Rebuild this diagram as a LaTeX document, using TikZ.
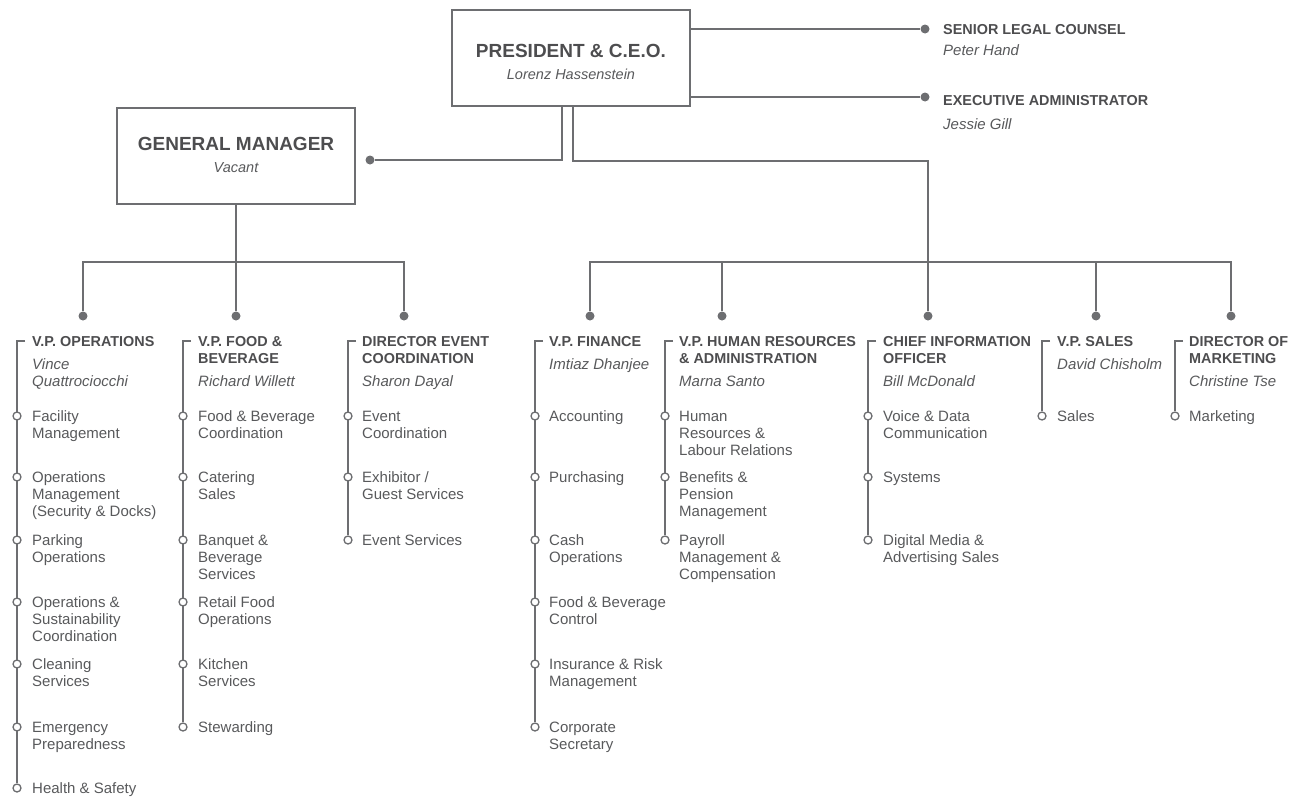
\documentclass[tikz,border=0pt]{standalone}
\usepackage{fontspec}
\setmainfont{Liberation Sans}
\usetikzlibrary{backgrounds}
\definecolor{orgline}{HTML}{6D6E71}
\definecolor{orgtext}{HTML}{58595B}
\definecolor{orghead}{HTML}{4D4D4F}
\newcommand{\stk}[1]{\begin{tabular}[t]{@{}l@{}}#1\end{tabular}}
\tikzset{
  bigbox/.style={draw=orgline, line width=2pt, minimum width=238, minimum height=96, inner sep=0},
  bigtitle/.style={font=\bfseries\fontsize{19}{22}\selectfont, text=orghead, anchor=base, inner sep=0},
  bigname/.style={font=\itshape\fontsize{14.5}{17}\selectfont, text=orgtext, anchor=base, inner sep=0},
  head/.style={anchor=base west, inner sep=0, font=\bfseries\fontsize{14.4}{17}\selectfont, text=orghead},
  person/.style={anchor=base west, inner sep=0, font=\itshape\fontsize{15}{17}\selectfont, text=orgtext},
  unit/.style={anchor=base west, inner sep=0, font=\fontsize{15}{17}\selectfont, text=orgtext},
  link/.style={draw=orgline, line width=1.5pt},
  hub/.style={circle, fill=orgline, inner sep=0, minimum size=9},
  knot/.style={circle, draw=orgline, line width=1.3pt, fill=white, inner sep=0, minimum size=8},
}
\begin{document}
\begin{tikzpicture}[x=1pt,y=-1pt]
\useasboundingbox (0,0) rectangle (1298,798);

% top boxes
\node[bigbox] (ceo) at (571,58) {};
\node[bigtitle] (ceoT) at (571,57) {PRESIDENT \& C.E.O.};
\node[bigname] (ceoN) at (571,79) {Lorenz Hassenstein};
\node[bigbox] (gm) at (236,156) {};
\node[bigtitle] (gmT) at (236,150) {GENERAL MANAGER};
\node[bigname] (gmN) at (236,172) {Vacant};

% staff of the president
\node[hub] (legalD) at (925,29) {};
\node[head] (legalH) at (943,34) {SENIOR LEGAL COUNSEL};
\node[person] (legalN) at (943,55) {Peter Hand};
\node[hub] (adminD) at (925,97) {};
\node[head] (adminH) at (943,105) {EXECUTIVE ADMINISTRATOR};
\node[person] (adminN) at (943,129) {Jessie Gill};
\draw[link] (ceo.east |- legalD) -- (legalD);
\draw[link] (ceo.east |- adminD) -- (adminD);

% hub dots
\coordinate (leftbus) at (0,262);
\coordinate (rightbus) at (0,262);
\node[hub] (opsD) at (83,316) {};
\node[hub] (fnbD) at (236,316) {};
\node[hub] (evtD) at (404,316) {};
\node[hub] (finD) at (590,316) {};
\node[hub] (hrD) at (722,316) {};
\node[hub] (cioD) at (928,316) {};
\node[hub] (salD) at (1096,316) {};
\node[hub] (mktD) at (1231,316) {};
\node[hub] (gmD) at (370,160) {};

% reporting lines
\draw[link] ([xshift=-9]ceo.south) |- (gmD);
\draw[link] ([xshift=2]ceo.south) -- ++(0,54) -| (cioD);
\draw[link] (gm.south) -- (fnbD);
\draw[link] (opsD) |- (evtD |- leftbus) -- (evtD);
\draw[link] (finD) |- (mktD |- rightbus) -- (mktD);
\draw[link] (hrD) -- (hrD |- rightbus);
\draw[link] (salD) -- (salD |- rightbus);

% V.P. Operations
\node[head] (opsH) at (32,346) {V.P. OPERATIONS};
\node[person] (opsN) at (32,369) {\stk{Vince\\Quattrociocchi}};
\coordinate (opsTop) at (25,341);
\foreach \y/\txt [count=\n] in {416/{Facility\\Management}, 477/{Operations\\Management\\(Security \& Docks)},
  540/{Parking\\Operations}, 602/{Operations \&\\Sustainability\\Coordination}, 664/{Cleaning\\Services},
  727/{Emergency\\Preparedness}, 788/{Health \& Safety}}{
  \node[knot] (ops\n) at (17,\y) {};
  \node[unit] (opsU\n) at (32,{\y+5}) {\stk{\txt}};
}
\begin{pgfonlayer}{background}
\draw[link] (opsTop) -| (ops7);
\end{pgfonlayer}

% V.P. Food & Beverage
\node[head] (fnbH) at (198,346) {\stk{V.P. FOOD \&\\BEVERAGE}};
\node[person] (fnbN) at (198,386) {Richard Willett};
\coordinate (fnbTop) at (191,341);
\foreach \y/\txt [count=\n] in {416/{Food \& Beverage\\Coordination}, 477/{Catering\\Sales},
  540/{Banquet \&\\Beverage\\Services}, 602/{Retail Food\\Operations}, 664/{Kitchen\\Services},
  727/{Stewarding}}{
  \node[knot] (fnb\n) at (183,\y) {};
  \node[unit] (fnbU\n) at (198,{\y+5}) {\stk{\txt}};
}
\begin{pgfonlayer}{background}
\draw[link] (fnbTop) -| (fnb6);
\end{pgfonlayer}

% Director Event Coordination
\node[head] (evtH) at (362,346) {\stk{DIRECTOR EVENT\\COORDINATION}};
\node[person] (evtN) at (362,386) {Sharon Dayal};
\coordinate (evtTop) at (356,341);
\foreach \y/\txt [count=\n] in {416/{Event\\Coordination}, 477/{Exhibitor /\\Guest Services}, 540/{Event Services}}{
  \node[knot] (evt\n) at (348,\y) {};
  \node[unit] (evtU\n) at (362,{\y+5}) {\stk{\txt}};
}
\begin{pgfonlayer}{background}
\draw[link] (evtTop) -| (evt3);
\end{pgfonlayer}

% V.P. Finance
\node[head] (finH) at (549,346) {V.P. FINANCE};
\node[person] (finN) at (549,369) {Imtiaz Dhanjee};
\coordinate (finTop) at (543,341);
\foreach \y/\txt [count=\n] in {416/{Accounting}, 477/{Purchasing}, 540/{Cash\\Operations},
  602/{Food \& Beverage\\Control}, 664/{Insurance \& Risk\\Management}, 727/{Corporate\\Secretary}}{
  \node[knot] (fin\n) at (535,\y) {};
  \node[unit] (finU\n) at (549,{\y+5}) {\stk{\txt}};
}
\begin{pgfonlayer}{background}
\draw[link] (finTop) -| (fin6);
\end{pgfonlayer}

% V.P. Human Resources & Administration
\node[head] (hrH) at (679,346) {\stk{V.P. HUMAN RESOURCES\\\& ADMINISTRATION}};
\node[person] (hrN) at (679,386) {Marna Santo};
\coordinate (hrTop) at (673,341);
\foreach \y/\txt [count=\n] in {416/{Human\\Resources \&\\Labour Relations}, 477/{Benefits \&\\Pension\\Management},
  540/{Payroll\\Management \&\\Compensation}}{
  \node[knot] (hr\n) at (665,\y) {};
  \node[unit] (hrU\n) at (679,{\y+5}) {\stk{\txt}};
}
\begin{pgfonlayer}{background}
\draw[link] (hrTop) -| (hr3);
\end{pgfonlayer}

% Chief Information Officer
\node[head] (cioH) at (883,346) {\stk{CHIEF INFORMATION\\OFFICER}};
\node[person] (cioN) at (883,386) {Bill McDonald};
\coordinate (cioTop) at (876,341);
\foreach \y/\txt [count=\n] in {416/{Voice \& Data\\Communication}, 477/{Systems}, 540/{Digital Media \&\\Advertising Sales}}{
  \node[knot] (cio\n) at (868,\y) {};
  \node[unit] (cioU\n) at (883,{\y+5}) {\stk{\txt}};
}
\begin{pgfonlayer}{background}
\draw[link] (cioTop) -| (cio3);
\end{pgfonlayer}

% V.P. Sales
\node[head] (salH) at (1057,346) {V.P. SALES};
\node[person] (salN) at (1057,369) {David Chisholm};
\coordinate (salTop) at (1050,341);
\node[knot] (sal1) at (1042,416) {};
\node[unit] (salU1) at (1057,421) {Sales};
\begin{pgfonlayer}{background}
\draw[link] (salTop) -| (sal1);
\end{pgfonlayer}

% Director of Marketing
\node[head] (mktH) at (1189,346) {\stk{DIRECTOR OF\\MARKETING}};
\node[person] (mktN) at (1189,386) {Christine Tse};
\coordinate (mktTop) at (1183,341);
\node[knot] (mkt1) at (1175,416) {};
\node[unit] (mktU1) at (1189,421) {Marketing};
\begin{pgfonlayer}{background}
\draw[link] (mktTop) -| (mkt1);
\end{pgfonlayer}
\end{tikzpicture}
\end{document}
